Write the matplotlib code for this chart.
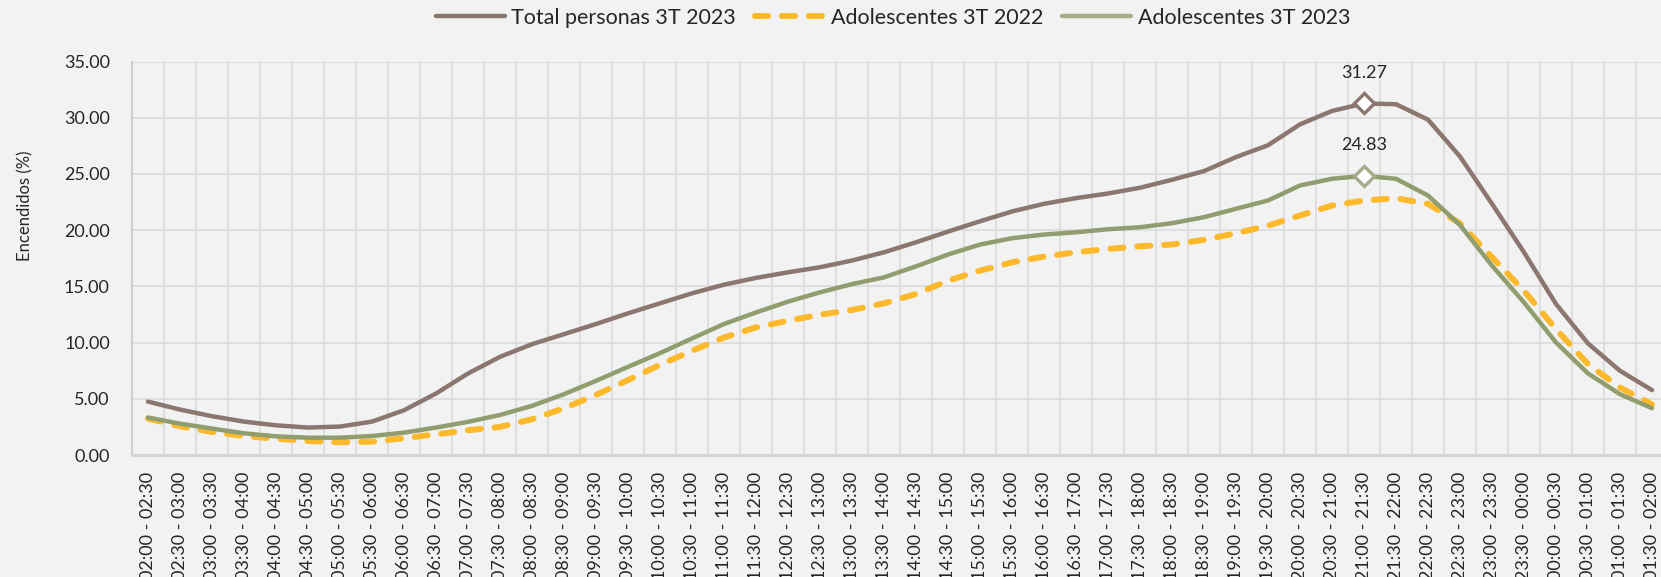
import matplotlib
matplotlib.use("Agg")
import matplotlib.pyplot as plt
import numpy as np

hours = ["02:00", "02:30", "03:00", "03:30", "04:00", "04:30", "05:00", "05:30",
         "06:00", "06:30", "07:00", "07:30", "08:00", "08:30", "09:00", "09:30",
         "10:00", "10:30", "11:00", "11:30", "12:00", "12:30", "13:00", "13:30",
         "14:00", "14:30", "15:00", "15:30", "16:00", "16:30", "17:00", "17:30",
         "18:00", "18:30", "19:00", "19:30", "20:00", "20:30", "21:00", "21:30",
         "22:00", "22:30", "23:00", "23:30", "00:00", "00:30", "01:00", "01:30"]
categories = [f"{hours[i]} - {hours[(i + 1) % len(hours)]}" for i in range(len(hours))]

total_2023 = [4.75, 4.04, 3.45, 2.97, 2.64, 2.44, 2.53, 2.97, 3.98, 5.47,
              7.25, 8.73, 9.86, 10.75, 11.65, 12.60, 13.49, 14.38, 15.15, 15.75,
              16.25, 16.70, 17.30, 18.03, 18.92, 19.87, 20.79, 21.66, 22.34, 22.85,
              23.26, 23.77, 24.48, 25.25, 26.50, 27.55, 29.41, 30.60, 31.27, 31.20,
              29.83, 26.55, 22.34, 18.03, 13.43, 9.92, 7.49, 5.77]

adol_2022 = [3.25, 2.55, 2.05, 1.69, 1.45, 1.25, 1.13, 1.19, 1.49, 1.84,
             2.20, 2.50, 3.18, 4.16, 5.35, 6.66, 8.02, 9.27, 10.45, 11.35,
             11.94, 12.48, 12.90, 13.49, 14.32, 15.50, 16.40, 17.14, 17.65, 18.03,
             18.33, 18.57, 18.72, 19.14, 19.72, 20.40, 21.30, 22.19, 22.64, 22.84,
             22.34, 20.60, 17.59, 14.60, 11.20, 8.08, 6.00, 4.50]

adol_2023 = [3.33, 2.79, 2.35, 1.93, 1.66, 1.54, 1.54, 1.69, 1.99, 2.44,
             2.95, 3.56, 4.37, 5.41, 6.60, 7.84, 9.06, 10.37, 11.65, 12.68,
             13.64, 14.47, 15.20, 15.80, 16.78, 17.83, 18.72, 19.28, 19.61, 19.81,
             20.08, 20.26, 20.62, 21.15, 21.90, 22.64, 23.97, 24.57, 24.83, 24.57,
             23.08, 20.45, 16.84, 13.57, 10.01, 7.25, 5.41, 4.16]

series_names = ["Total personas 3T 2023", "Adolescentes 3T 2022", "Adolescentes 3T 2023"]
y_ticks = [0, 5, 10, 15, 20, 25, 30, 35]

plt.rcParams['font.family'] = ['Lato', 'DejaVu Sans']

BG = "#f2f2f2"
GRID = "#d9d9d9"
TXT = "#262626"
C_TOTAL = "#8b7670"
C_22 = "#fbb92b"
C_23 = "#8f9d6f"

fig = plt.figure(figsize=(16.61, 5.77), dpi=100, facecolor=BG)
ax = fig.add_axes([132 / 1661, 1 - 455 / 577, (1668 - 132) / 1661, (455 - 61.5) / 577])
ax.set_facecolor(BG)

x = np.arange(len(categories))
ax.plot(x, total_2023, color=C_TOTAL, lw=3.2, solid_joinstyle='round',
        solid_capstyle='round', label=series_names[0], zorder=3)
ax.plot(x, adol_2022, color=C_22, lw=4.3, dashes=(2.2, 2.3), dash_capstyle='round',
        label=series_names[1], zorder=3)
ax.plot(x, adol_2023, color=C_23, lw=3.2, solid_joinstyle='round',
        solid_capstyle='round', label=series_names[2], zorder=4)

for vals, col in [(total_2023, C_TOTAL), (adol_2023, "#a3ad8b")]:
    i = int(np.argmax(vals))
    ax.plot(x[i], vals[i], marker='D', ms=10, mfc='white', mec=col, mew=2.4, zorder=6)
    ax.annotate(f"{vals[i]:.2f}", (x[i], vals[i]), xytext=(0, 22), textcoords='offset points',
                ha='center', va='center', fontsize=13, color=TXT)

ax.set_xlim(-0.5, len(categories) - 0.5)
ax.set_ylim(0, 35)
ax.set_yticks(y_ticks)
ax.set_yticklabels([f"{v:.2f}" for v in y_ticks])
ax.set_xticks(x)
ax.set_xticklabels(categories, rotation=90, va='top', ha='center')
ax.set_xticks(np.arange(-0.5, len(categories), 1), minor=True)
ax.tick_params(axis='x', which='both', length=0, pad=12, labelsize=13, colors=TXT)
ax.tick_params(axis='y', which='both', length=0, pad=16, labelsize=13, colors=TXT)

ax.grid(axis='y', which='major', color=GRID, lw=1.1, zorder=0)
ax.grid(axis='x', which='minor', color=GRID, lw=1.1, zorder=0)
ax.grid(axis='x', which='major', visible=False)
ax.set_axisbelow(True)

for s in ['top', 'right']:
    ax.spines[s].set_visible(False)
ax.spines['left'].set_color("#cfcfcf")
ax.spines['left'].set_linewidth(1.5)
ax.spines['bottom'].set_color("#d4d4d4")
ax.spines['bottom'].set_linewidth(2.2)

fig.text(25 / 1661, 1 - 206 / 577, "Encendidos (%)", rotation=90, ha='center', va='center',
         fontsize=12, color=TXT)

leg = fig.legend(loc='center', bbox_to_anchor=(893 / 1661, 1 - 18 / 577), ncol=3,
                 frameon=False, fontsize=15.5, handlelength=3.2, handletextpad=0.3,
                 columnspacing=0.9, labelcolor=TXT)
leg.get_lines()[2].set_color("#a6ae8e")

fig.savefig("out.png", dpi=100, facecolor=BG)
